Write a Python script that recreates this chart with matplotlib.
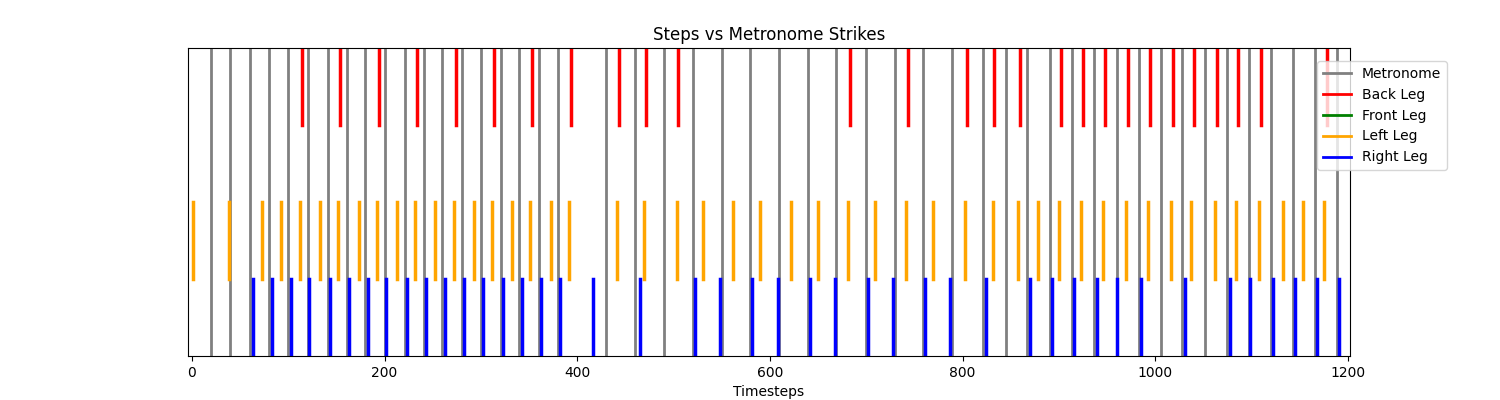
import matplotlib
matplotlib.use("Agg")
import matplotlib.pyplot as plt

metronome = [20, 40, 60, 80, 100, 121, 141, 161, 180, 200, 221, 241, 260, 280, 300, 321, 340, 360, 380,
             430, 460, 490, 520, 550, 579, 609, 639, 669, 700, 730, 759, 789,
             821, 845, 867, 891, 913, 936, 960, 983, 1006, 1028, 1051, 1074, 1097, 1120, 1143, 1166, 1189]
back_leg = [114, 154, 194, 234, 274, 314, 353, 394, 443, 471, 505, 683, 743, 804,
            833, 859, 902, 925, 948, 972, 994, 1018, 1040, 1064, 1086, 1110, 1178]
front_leg = []
left_leg = [1, 39, 73, 93, 112, 133, 152, 173, 192, 213, 232, 252, 272, 293, 312, 332, 351, 373, 391,
            441, 469, 504, 530, 562, 590, 622, 650, 681, 709, 741, 769, 802,
            831, 857, 878, 900, 923, 946, 970, 992, 1016, 1037, 1062, 1084, 1108, 1132, 1153, 1175]
right_leg = [63, 83, 103, 122, 143, 163, 183, 202, 223, 243, 263, 282, 302, 323, 343, 362, 382,
             416, 465, 522, 548, 581, 608, 642, 668, 702, 728, 761, 787,
             824, 870, 893, 916, 939, 960, 985, 1031, 1077, 1098, 1122, 1145, 1168, 1191]

fig, ax = plt.subplots(figsize=(15, 4), dpi=100)
for x in metronome:
    ax.axvline(x, 0, 1, color='gray', lw=2)
for x in back_leg:
    ax.axvline(x, 0.75, 1.0, color='red', lw=2.5)
for x in front_leg:
    ax.axvline(x, 0.5, 0.75, color='green', lw=2.5)
for x in left_leg:
    ax.axvline(x, 0.25, 0.5, color='orange', lw=2.5)
for x in right_leg:
    ax.axvline(x, 0.0, 0.25, color='blue', lw=2.5)

from matplotlib.lines import Line2D
handles = [Line2D([], [], color=c, lw=2) for c in ['gray', 'red', 'green', 'orange', 'blue']]
ax.legend(handles, ['Metronome', 'Back Leg', 'Front Leg', 'Left Leg', 'Right Leg'],
          loc='upper left', bbox_to_anchor=(0.966, 0.98))
ax.set_xlim(-4.5, 1202)
ax.set_yticks([])
ax.set_xlabel('Timesteps')
ax.set_title('Steps vs Metronome Strikes')
fig.savefig('out.png')
